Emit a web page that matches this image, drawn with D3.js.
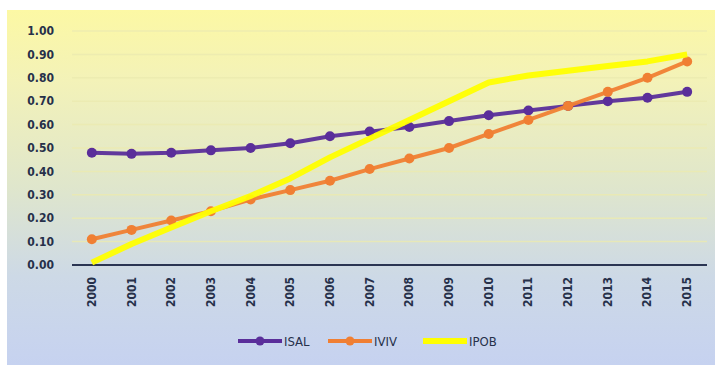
<!DOCTYPE html>
<html>
<head>
<meta charset="utf-8">
<script src="https://cdn.jsdelivr.net/npm/d3@7"></script>
<style>
	body { margin: 0; background: #fff; }
	svg { display: block; }
	.tick-label { font-family: "DejaVu Sans Condensed", "DejaVu Sans", sans-serif; font-weight: bold; font-size: 12px; fill: #26304a; }
</style>
</head>
<body>
<svg id="chart" width="715" height="365"></svg>
<script>
// data
const years = ["2000","2001","2002","2003","2004","2005","2006","2007","2008","2009","2010","2011","2012","2013","2014","2015"];
const isal = [0.48, 0.475, 0.48, 0.49, 0.50, 0.52, 0.55, 0.57, 0.59, 0.615, 0.64, 0.66, 0.68, 0.70, 0.715, 0.74];
const iviv = [0.11, 0.15, 0.19, 0.23, 0.28, 0.32, 0.36, 0.41, 0.455, 0.50, 0.56, 0.62, 0.68, 0.74, 0.80, 0.87];
const ipob = [0.01, 0.09, 0.16, 0.23, 0.295, 0.37, 0.46, 0.54, 0.62, 0.70, 0.78, 0.81, 0.83, 0.85, 0.87, 0.90];
const yTicks = [0, 0.1, 0.2, 0.3, 0.4, 0.5, 0.6, 0.7, 0.8, 0.9, 1.0];

const series = [
	{name: "ISAL", values: isal, color: "#5a2e9a", width: 4, marker: true},
	{name: "IVIV", values: iviv, color: "#f07f33", width: 4, marker: true},
	{name: "IPOB", values: ipob, color: "#ffff00", width: 6, marker: false}
];

const svg = d3.select("#chart");

// background panel
const defs = svg.append("defs");
const grad = defs.append("linearGradient")
	.attr("id", "bg")
	.attr("x1", "0%").attr("y1", "0%")
	.attr("x2", "0%").attr("y2", "100%");
grad.append("stop").attr("offset", "0%").attr("stop-color", "#fcf8a4");
grad.append("stop").attr("offset", "20%").attr("stop-color", "#f3f2b8");
grad.append("stop").attr("offset", "50%").attr("stop-color", "#dfe6cc");
grad.append("stop").attr("offset", "75%").attr("stop-color", "#cdd9e6");
grad.append("stop").attr("offset", "100%").attr("stop-color", "#c6d2f0");

svg.append("rect")
	.attr("x", 7).attr("y", 10)
	.attr("width", 708).attr("height", 355)
	.style("fill", "url(#bg)");

const x = d3.scaleBand()
	.domain(years)
	.range([72, 707]);

const y = d3.scaleLinear()
	.domain([0, 1])
	.range([265, 31]);

// faint gridlines
svg.append("g")
	.selectAll("line")
	.data(yTicks.slice(1))
	.enter()
	.append("line")
	.attr("x1", 72).attr("x2", 707)
	.attr("y1", d => y(d)).attr("y2", d => y(d))
	.style("stroke", "#ecebb0")
	.style("stroke-width", 1.5)
	.style("opacity", 0.8);

// y axis labels
svg.append("g")
	.selectAll("text")
	.data(yTicks)
	.enter()
	.append("text")
	.attr("class", "tick-label")
	.attr("x", 54)
	.attr("y", d => y(d))
	.attr("dy", "0.35em")
	.attr("text-anchor", "end")
	.text(d => d.toFixed(2));

// x axis line
svg.append("line")
	.attr("x1", 72).attr("x2", 707)
	.attr("y1", y(0)).attr("y2", y(0))
	.style("stroke", "#2b3552")
	.style("stroke-width", 2);

// x axis labels (rotated)
svg.append("g")
	.selectAll("text")
	.data(years)
	.enter()
	.append("text")
	.attr("class", "tick-label")
	.attr("transform", d => "translate(" + (x(d) + x.bandwidth() / 2 + 4) + ",277) rotate(-90)")
	.attr("text-anchor", "end")
	.text(d => d);

const line = d3.line()
	.x((d, i) => x(years[i]) + x.bandwidth() / 2)
	.y(d => y(d));

// draw IPOB underneath? order: ISAL, IVIV, IPOB on top
series.forEach(s => {
	const g = svg.append("g");
	g.append("path")
		.datum(s.values)
		.attr("d", line)
		.style("fill", "none")
		.style("stroke", s.color)
		.style("stroke-width", s.width)
		.style("stroke-linejoin", "round")
		.style("opacity", 0.95);
	if (s.marker) {
		g.selectAll("circle")
			.data(s.values)
			.enter()
			.append("circle")
			.attr("cx", (d, i) => x(years[i]) + x.bandwidth() / 2)
			.attr("cy", d => y(d))
			.attr("r", 5)
			.style("fill", s.color);
	}
});

// legend
const legendPos = [238, 328, 423];
const legend = svg.append("g");
series.forEach((s, i) => {
	const lx = legendPos[i];
	legend.append("line")
		.attr("x1", lx).attr("x2", lx + 44)
		.attr("y1", 341).attr("y2", 341)
		.style("stroke", s.color)
		.style("stroke-width", s.width);
	if (s.marker) {
		legend.append("circle")
			.attr("cx", lx + 22).attr("cy", 341)
			.attr("r", 4.5)
			.style("fill", s.color);
	}
	legend.append("text")
		.attr("class", "tick-label")
		.attr("x", lx + 46)
		.attr("y", 341)
		.attr("dy", "0.35em")
		.style("font-weight", "normal")
		.style("font-size", "13px")
		.text(s.name);
});
</script>
</body>
</html>
